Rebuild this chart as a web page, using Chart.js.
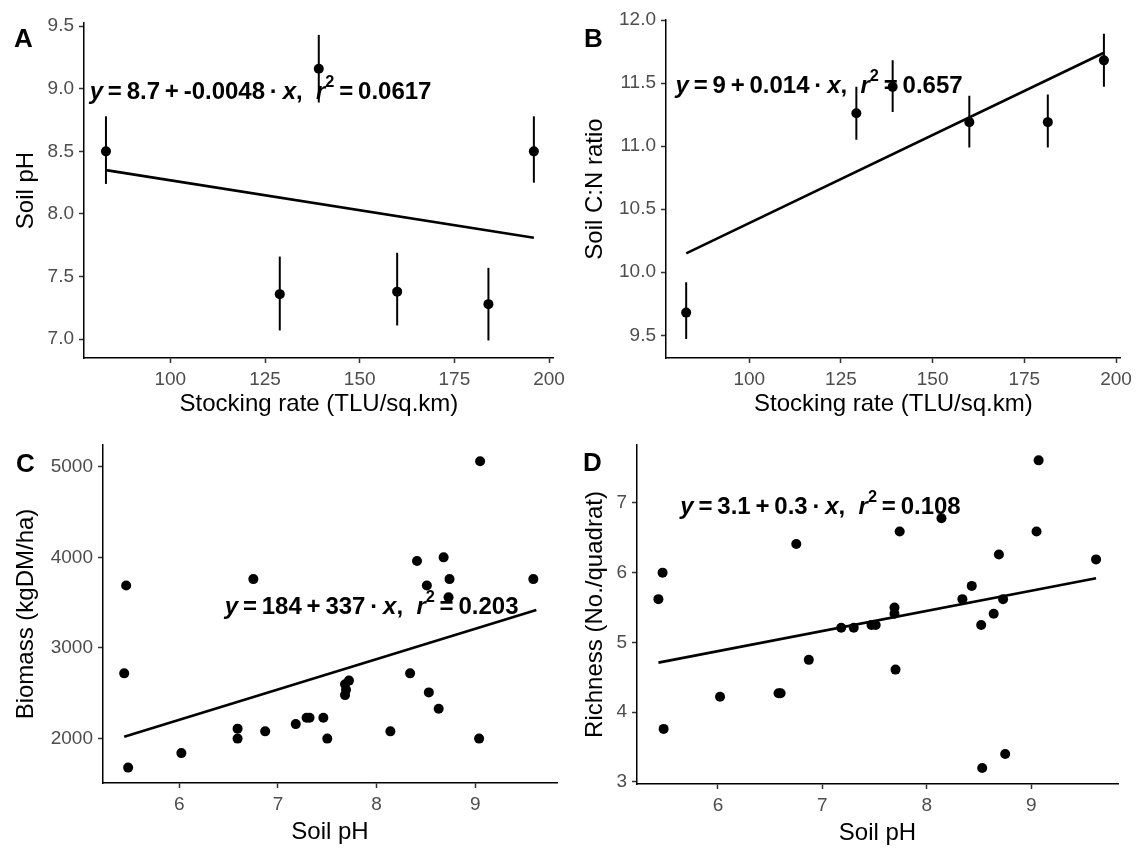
<!DOCTYPE html>
<html>
<head>
<meta charset="utf-8">
<script src="https://cdn.jsdelivr.net/npm/chart.js@4.4.1/dist/chart.umd.min.js"></script>
<style>
  html, body { margin: 0; padding: 0; background: #fff; }
  #wrap { position: relative; width: 1137px; height: 848px; }
  canvas { position: absolute; }
</style>
</head>
<body>
<div id="wrap">
  <canvas id="panel-a" width="570" height="420" style="left:0;top:0"></canvas>
  <canvas id="panel-b" width="567" height="420" style="left:570px;top:0"></canvas>
  <canvas id="panel-c" width="570" height="428" style="left:0;top:420px"></canvas>
  <canvas id="panel-d" width="567" height="428" style="left:570px;top:420px"></canvas>
</div>
<script>
const FONT = '"Liberation Sans", Arial, sans-serif';

// Panel A - soil pH vs stocking rate (mean and error bar)
const stockingA = [83.0, 128.9, 139.2, 159.9, 184.0, 196.0];
const soilPh = [8.50, 7.36, 9.16, 7.38, 7.28, 8.50];
const soilPhLow = [8.24, 7.07, 8.89, 7.11, 6.99, 8.25];
const soilPhHigh = [8.78, 7.66, 9.43, 7.69, 7.57, 8.78];
const fitAx = [83.0, 196.0];
const fitAy = [8.35, 7.81];

// Panel B - soil C:N ratio vs stocking rate
const stockingB = [82.8, 129.2, 139.1, 160.0, 181.4, 196.7];
const soilCN = [9.68, 11.26, 11.47, 11.19, 11.19, 11.68];
const soilCNLow = [9.47, 11.05, 11.27, 10.99, 10.99, 11.47];
const soilCNHigh = [9.92, 11.47, 11.68, 11.40, 11.41, 11.89];
const fitBx = [82.8, 196.7];
const fitBy = [10.15, 11.74];

// Panel C - biomass vs soil pH
const phC = [5.46, 5.44, 5.48, 6.02, 6.59, 6.59, 6.75, 6.87, 7.18, 7.29, 7.32, 7.46, 7.50, 7.68, 7.69, 7.68, 7.72,
             8.14, 8.34, 8.41, 8.51, 8.53, 8.63, 8.68, 8.74, 8.73, 9.04, 9.05, 9.59];
const biomass = [3690, 2720, 1680, 1840, 2110, 2000, 3760, 2080, 2160, 2230, 2230, 2230, 2000, 2600, 2540, 2480, 2640,
                 2080, 2720, 3960, 3690, 2510, 2330, 4000, 3760, 3560, 2000, 5060, 3760];
const fitCx = [5.44, 9.62];
const fitCy = [2020, 3420];

// Panel D - richness vs soil pH
const phD = [5.43, 5.47, 5.48, 6.02, 6.58, 6.60, 6.75, 6.87, 7.18, 7.30, 7.47, 7.51, 7.69, 7.69, 7.70, 7.74,
             8.14, 8.34, 8.43, 8.52, 8.53, 8.64, 8.69, 8.73, 8.75, 9.05, 9.07, 9.62];
const richness = [5.62, 6.00, 3.76, 4.22, 4.27, 4.27, 6.41, 4.75, 5.21, 5.21, 5.25, 5.25, 5.50, 5.41, 4.61, 6.59,
                  6.78, 5.62, 5.81, 5.25, 3.20, 5.41, 6.26, 5.62, 3.40, 6.59, 7.61, 6.19];
const fitDx = [5.43, 9.62];
const fitDy = [4.71, 5.92];

// tick labels
const stockTicks = [100, 125, 150, 175, 200];
const phTicksA = [7.0, 7.5, 8.0, 8.5, 9.0, 9.5];
const cnTicks = [9.5, 10.0, 10.5, 11.0, 11.5, 12.0];
const phTicks = [6, 7, 8, 9];
const biomassTicks = [2000, 3000, 4000, 5000];
const richTicks = [3, 4, 5, 6, 7];

// regression equation pieces: [text, style] (i = italic, s = superscript)
const eqA = [['y', 'i'], ['\u2009=\u20098.7\u2009+\u2009-0.0048\u2009·\u2009', ''], ['x', 'i'], [',  ', ''], ['r', 'i'], ['2', 's'], ['\u2009=\u20090.0617', '']];
const eqB = [['y', 'i'], ['\u2009=\u20099\u2009+\u20090.014\u2009·\u2009', ''], ['x', 'i'], [',  ', ''], ['r', 'i'], ['2', 's'], ['\u2009=\u20090.657', '']];
const eqC = [['y', 'i'], ['\u2009=\u2009184\u2009+\u2009337\u2009·\u2009', ''], ['x', 'i'], [',  ', ''], ['r', 'i'], ['2', 's'], ['\u2009=\u20090.203', '']];
const eqD = [['y', 'i'], ['\u2009=\u20093.1\u2009+\u20090.3\u2009·\u2009', ''], ['x', 'i'], [',  ', ''], ['r', 'i'], ['2', 's'], ['\u2009=\u20090.108', '']];

const panelText = {
    id: 'panelText',
    beforeDatasetsDraw(chart, args, opts) {
        const ctx = chart.ctx;
        ctx.save();
        ctx.fillStyle = '#000';
        // equation, anchored in data units
        let cx = chart.scales.x.getPixelForValue(opts.at[0]);
        const cy = chart.scales.y.getPixelForValue(opts.at[1]);
        ctx.textBaseline = 'middle';
        ctx.textAlign = 'left';
        opts.eq.forEach(([t, s]) => {
            const fs = s === 's' ? opts.size * 0.68 : opts.size;
            ctx.font = (s === 'i' ? 'italic ' : '') + 'bold ' + fs + 'px ' + FONT;
            ctx.fillText(t, cx, s === 's' ? cy - opts.size * 0.42 : cy);
            cx += ctx.measureText(t).width;
        });
        ctx.restore();
    },
    afterDraw(chart, args, opts) {
        const ctx = chart.ctx;
        ctx.save();
        ctx.fillStyle = '#000';
        ctx.font = 'bold 26px ' + FONT;
        ctx.textBaseline = 'alphabetic';
        ctx.fillText(opts.letter, opts.lx, opts.ly);
        ctx.restore();
    }
};

function axis(min, max, ticks, title, isX, size, titlePad, decimals) {
    return {
        type: 'linear',
        min: min,
        max: max,
        afterBuildTicks: s => { s.ticks = ticks.map(v => ({value: v})); },
        afterFit: s => { if (isX) s.height = size; else s.width = size; },
        border: {display: true, color: '#000', width: 1.5},
        grid: {display: true, drawOnChartArea: false, drawTicks: true, tickLength: 5, tickColor: '#333', tickWidth: 1.5},
        ticks: {
            color: '#4d4d4d', font: {family: FONT, size: 19}, padding: 5,
            maxRotation: 0, autoSkip: false,
            callback: v => Number(v).toFixed(decimals)
        },
        title: {
            display: true, text: title, color: '#000',
            font: {family: FONT, size: 24, lineHeight: 1.2},
            padding: isX ? {top: 0, bottom: titlePad} : {top: titlePad, bottom: 0}
        }
    };
}

function points(xs, ys) {
    return {data: xs.map((x, i) => ({x: x, y: ys[i]})), pointRadius: 5, pointBackgroundColor: '#000', pointBorderWidth: 0, showLine: false};
}

function fitLine(xs, ys) {
    return {data: xs.map((x, i) => ({x: x, y: ys[i]})), showLine: true, borderColor: '#000', borderWidth: 2.6, pointRadius: 0};
}

function errorBars(xs, lo, hi) {
    return xs.map((x, i) => ({
        data: [{x: x, y: lo[i]}, {x: x, y: hi[i]}],
        showLine: true, borderColor: '#000', borderWidth: 2, pointRadius: 0
    }));
}

function makePanel(id, datasets, cfg) {
    new Chart(document.getElementById(id), {
        type: 'scatter',
        data: {datasets: datasets},
        plugins: [panelText],
        options: {
            responsive: false,
            animation: false,
            events: [],
            layout: {padding: {left: 0, top: cfg.top, right: cfg.right, bottom: 0}},
            plugins: {
                legend: {display: false},
                tooltip: {enabled: false},
                panelText: {letter: cfg.letter, lx: cfg.lx, ly: cfg.ly, eq: cfg.eq, at: cfg.at, size: 24}
            },
            scales: {
                x: axis(cfg.x[0], cfg.x[1], cfg.xTicks, cfg.xTitle, true, cfg.xSize, cfg.xPad, 0),
                y: axis(cfg.y[0], cfg.y[1], cfg.yTicks, cfg.yTitle, false, cfg.ySize, cfg.yPad, cfg.dec)
            }
        }
    });
}

makePanel('panel-a',
    [...errorBars(stockingA, soilPhLow, soilPhHigh), fitLine(fitAx, fitAy), points(stockingA, soilPh)],
    {letter: 'A', lx: 14, ly: 47, eq: eqA, at: [78.7, 8.97],
     top: 23, right: 13, x: [77.2, 201.3], y: [6.85, 9.525],
     xTicks: stockTicks, yTicks: phTicksA, xTitle: 'Stocking rate (TLU/sq.km)', yTitle: 'Soil pH',
     xSize: 62, xPad: 1, ySize: 84, yPad: 11.5, dec: 1});

makePanel('panel-b',
    [...errorBars(stockingB, soilCNLow, soilCNHigh), fitLine(fitBx, fitBy), points(stockingB, soilCN)],
    {letter: 'B', lx: 14, ly: 47, eq: eqB, at: [79.9, 11.47],
     top: 20, right: 12, x: [77.3, 201.3], y: [9.32, 12.0],
     xTicks: stockTicks, yTicks: cnTicks, xTitle: 'Stocking rate (TLU/sq.km)', yTitle: 'Soil C:N ratio',
     xSize: 62, xPad: 1, ySize: 96, yPad: 10.5, dec: 1});

makePanel('panel-c',
    [fitLine(fitCx, fitCy), points(phC, biomass)],
    {letter: 'C', lx: 16, ly: 52, eq: eqC, at: [6.46, 3446],
     top: 25, right: 13, x: [5.225, 9.83], y: [1510, 5240],
     xTicks: phTicks, yTicks: biomassTicks, xTitle: 'Soil pH', yTitle: 'Biomass (kgDM/ha)',
     xSize: 65, xPad: 1.5, ySize: 103, yPad: 11.5, dec: 0});

makePanel('panel-d',
    [fitLine(fitDx, fitDy), points(phD, richness)],
    {letter: 'D', lx: 13, ly: 51, eq: eqD, at: [5.64, 6.93],
     top: 25, right: 19, x: [5.225, 9.83], y: [2.97, 7.83],
     xTicks: phTicks, yTicks: richTicks, xTitle: 'Soil pH', yTitle: 'Richness (No./quadrat)',
     xSize: 64, xPad: 0, ySize: 67, yPad: 10.5, dec: 0});
</script>
</body>
</html>
